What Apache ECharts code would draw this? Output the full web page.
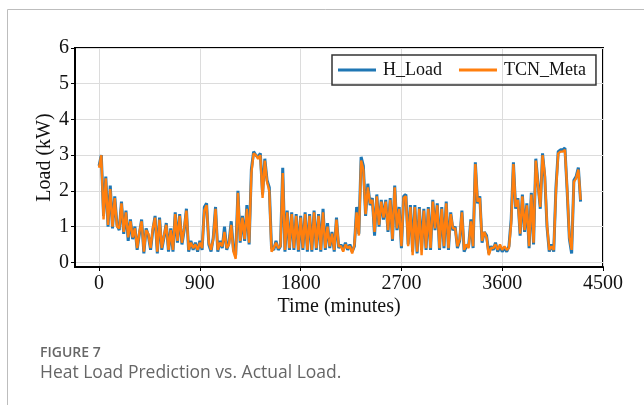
<!DOCTYPE html>
<html>
<head>
<meta charset="utf-8">
<script src="https://cdn.jsdelivr.net/npm/echarts@6/dist/echarts.min.js"></script>
<style>
  html, body { margin: 0; padding: 0; background: #fff; }
  #chart { width: 644px; height: 405px; }
</style>
</head>
<body>
<div id="chart"></div>
<script>
// sampling step of the series, minutes
const STEP = 20

const hLoad = [
  2.7, 3.0, 1.3, 2.4, 1.0, 2.15, 0.95, 1.85, 1.05, 0.9,
  1.7, 0.8, 1.45, 0.6, 1.2, 0.65, 1.0, 0.35, 0.8, 1.2,
  0.25, 0.95, 0.75, 0.35, 0.9, 1.3, 0.25, 1.25, 0.35, 0.7,
  1.1, 0.3, 0.95, 0.3, 1.4, 0.55, 1.35, 0.5, 0.9, 1.5,
  0.3, 0.6, 0.35, 0.55, 0.3, 0.6, 0.35, 1.55, 1.65, 0.5,
  0.3, 0.7, 1.55, 0.3, 0.6, 0.4, 1.0, 0.35, 0.55, 1.15,
  0.35, 0.2, 2.0, 0.55, 1.3, 0.6, 1.6, 0.5, 2.6, 3.1,
  3.0, 2.95, 3.05, 1.9, 2.9, 2.3, 2.1, 0.4, 0.35, 0.6,
  0.35, 0.45, 2.65, 0.3, 1.45, 0.35, 1.4, 0.35, 1.35, 0.3,
  1.3, 0.35, 1.4, 0.3, 1.35, 0.3, 1.45, 0.35, 1.35, 0.3,
  1.5, 0.35, 1.1, 0.4, 0.85, 0.3, 1.25, 0.4, 0.5, 0.35,
  0.55, 0.35, 0.5, 0.3, 0.45, 1.55, 0.8, 2.95, 2.7, 1.3,
  2.2, 1.6, 1.8, 0.75, 1.9, 1.0, 1.75, 1.2, 1.75, 0.85,
  1.8, 0.6, 2.15, 0.9, 1.55, 0.4, 1.85, 1.9, 0.5, 1.6,
  0.3, 1.6, 0.25, 1.55, 0.35, 1.5, 0.35, 1.55, 0.35, 1.75,
  0.9, 1.65, 0.35, 1.55, 0.4, 1.7, 0.35, 1.4, 0.9, 1.0,
  0.4, 0.6, 1.45, 0.3, 0.45, 0.45, 1.2, 0.4, 2.8, 1.65,
  1.85, 0.55, 0.85, 0.75, 0.25, 0.45, 0.35, 0.55, 0.3, 0.45,
  0.3, 0.4, 0.3, 0.45, 1.2, 2.8, 1.5, 1.8, 0.75, 1.9,
  0.85, 1.65, 0.4, 1.95, 0.5, 2.9, 2.2, 1.5, 3.05, 2.4,
  1.0, 0.3, 0.5, 0.3, 2.1, 3.1, 3.15, 3.15, 3.2, 2.0,
  0.65, 0.25, 2.3, 2.4, 2.65, 1.7
]

const tcnMeta = [
  2.65, 3.0, 1.2, 2.35, 1.05, 2.05, 1.0, 1.8, 1.0, 0.95,
  1.65, 0.85, 1.4, 0.7, 1.15, 0.7, 0.95, 0.4, 0.85, 1.15,
  0.3, 0.9, 0.8, 0.4, 0.95, 1.25, 0.3, 1.2, 0.4, 0.75,
  1.05, 0.35, 0.9, 0.35, 1.35, 0.6, 1.3, 0.55, 0.95, 1.45,
  0.35, 0.55, 0.4, 0.5, 0.35, 0.55, 0.4, 1.45, 1.6, 0.55,
  0.35, 0.65, 1.5, 0.35, 0.55, 0.45, 0.85, 0.4, 0.5, 1.05,
  0.3, 0.1, 1.95, 0.6, 1.25, 0.65, 1.5, 0.55, 2.5, 3.05,
  3.0, 2.9, 3.0, 1.8, 2.85, 2.25, 2.0, 0.3, 0.4, 0.55,
  0.4, 0.45, 2.5, 0.35, 1.4, 0.4, 1.35, 0.4, 1.3, 0.35,
  1.25, 0.4, 1.35, 0.35, 1.3, 0.35, 1.4, 0.4, 1.3, 0.35,
  1.4, 0.4, 1.0, 0.45, 0.8, 0.35, 1.2, 0.45, 0.45, 0.3,
  0.5, 0.4, 0.45, 0.25, 0.5, 1.4, 0.75, 2.85, 2.6, 1.35,
  2.1, 1.65, 1.75, 0.85, 1.85, 1.05, 1.7, 1.25, 1.7, 0.9,
  1.75, 0.65, 2.1, 0.95, 1.5, 0.45, 1.8, 1.85, 0.45, 1.55,
  0.2, 1.55, 0.3, 1.5, 0.2, 1.45, 0.4, 1.5, 0.4, 1.7,
  0.95, 1.6, 0.4, 1.5, 0.45, 1.65, 0.4, 1.35, 0.95, 0.95,
  0.45, 0.65, 1.4, 0.35, 0.5, 0.4, 1.15, 0.45, 2.75, 1.7,
  1.8, 0.6, 0.85, 0.7, 0.2, 0.4, 0.4, 0.5, 0.35, 0.5,
  0.35, 0.45, 0.35, 0.4, 1.1, 2.75, 1.55, 1.75, 0.8, 1.85,
  0.9, 1.6, 0.45, 1.9, 0.55, 2.85, 2.15, 1.55, 3.0, 2.45,
  1.05, 0.35, 0.45, 0.35, 2.0, 3.05, 3.1, 3.1, 3.15, 2.05,
  0.7, 0.35, 2.25, 2.35, 2.6, 1.75
]

const xTicks = [0, 900, 1800, 2700, 3600, 4500]
const yTicks = [0, 1, 2, 3, 4, 5, 6]

const toPairs = arr => arr.map((v, i) => [i * STEP, v])

const serif = 'Liberation Serif'
const chart = echarts.init(document.getElementById('chart'))

const option = {
  animation: false,
  grid: {
    left: 75, right: 41, top: 48, bottom: 138,
    show: true, borderColor: '#000', borderWidth: 2
  },
  legend: {
    left: 332, top: 55,
    padding: [6, 10, 6, 6],
    borderColor: '#333', borderWidth: 1.5,
    icon: 'rect', itemWidth: 38, itemHeight: 3, itemGap: 17,
    textStyle: { fontFamily: serif, fontSize: 18, color: '#111', padding: [0, 0, 0, 2] },
    data: ['H_Load', 'TCN_Meta']
  },
  xAxis: {
    type: 'value', min: -215, max: 4500,
    name: 'Time (minutes)', nameLocation: 'middle', nameGap: 30, nameMoveOverlap: false,
    nameTextStyle: { fontFamily: serif, fontSize: 20, color: '#111' },
    axisLine: { onZero: false, lineStyle: { color: '#000', width: 2 } },
    axisTick: { show: true, length: 4, customValues: xTicks, lineStyle: { color: '#000', width: 1 } },
    axisLabel: {
      customValues: xTicks, margin: 7, fontFamily: serif, fontSize: 20, color: '#111',
      formatter: v => String(v)
    },
    splitLine: { show: true, lineStyle: { color: '#dcdcdc', width: 1 } }
  },
  yAxis: {
    type: 'value', min: -0.13, max: 6,
    name: 'Load (kW)', nameLocation: 'middle', nameGap: 20, nameRotate: 90, nameMoveOverlap: false,
    nameTextStyle: { fontFamily: serif, fontSize: 20, color: '#111' },
    axisLine: { onZero: false, lineStyle: { color: '#000', width: 2 } },
    axisTick: { show: true, length: 4, customValues: yTicks, lineStyle: { color: '#000', width: 1 } },
    axisLabel: { customValues: yTicks, margin: 6, fontFamily: serif, fontSize: 20, color: '#111' },
    splitLine: { show: true, lineStyle: { color: '#dcdcdc', width: 1 } }
  },
  series: [
    {
      name: 'H_Load', type: 'line', data: toPairs(hLoad),
      showSymbol: false, color: '#1f77b4',
      lineStyle: { width: 3, color: '#1f77b4' }, z: 2
    },
    {
      name: 'TCN_Meta', type: 'line', data: toPairs(tcnMeta),
      showSymbol: false, color: '#ff7f0e',
      lineStyle: { width: 2.4, color: '#ff7f0e' }, z: 3
    }
  ],
  graphic: [
    { type: 'line', shape: { x1: 7.5, y1: 9.5, x2: 644, y2: 9.5 }, style: { stroke: '#bdbdbd', lineWidth: 1 } },
    { type: 'line', shape: { x1: 7.5, y1: 9.5, x2: 7.5, y2: 405 }, style: { stroke: '#bdbdbd', lineWidth: 1 } },
    {
      type: 'text', left: 40, top: 346,
      style: { text: 'FIGURE 7', font: '600 14px "Open Sans"', fill: '#666' }
    },
    {
      type: 'text', left: 40, top: 364,
      style: { text: 'Heat Load Prediction vs. Actual Load.', font: '17.5px "Open Sans"', fill: '#666' }
    }
  ]
}

chart.setOption(option)
</script>
</body>
</html>
